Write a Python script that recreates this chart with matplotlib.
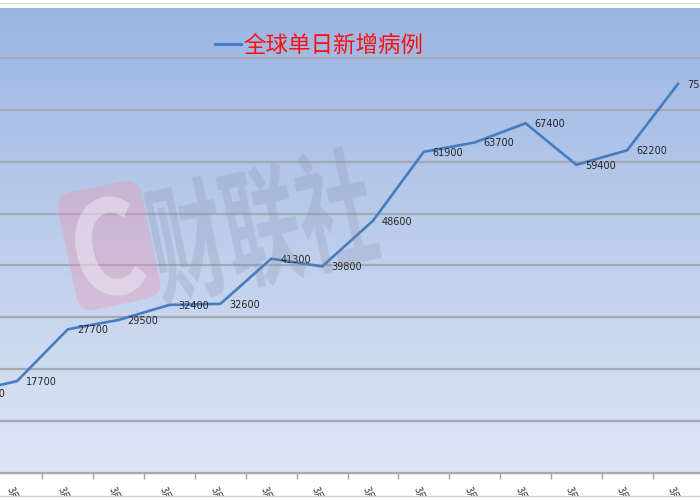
import numpy as np
import matplotlib
matplotlib.use("Agg")
import matplotlib.pyplot as plt
import matplotlib.transforms as mtransforms
from matplotlib.patches import FancyBboxPatch, PathPatch, Rectangle
from matplotlib.textpath import TextPath
from matplotlib.font_manager import FontProperties
from matplotlib.lines import Line2D

plt.rcParams['font.family'] = ['Noto Sans CJK SC', 'DejaVu Sans']

# ---------------- data ----------------
dates = ['3月17日', '3月18日', '3月19日', '3月20日', '3月21日', '3月22日', '3月23日',
         '3月24日', '3月25日', '3月26日', '3月27日', '3月28日', '3月29日', '3月30日',
         '3月31日']
cases = [15500, 17700, 27700, 29500, 32400, 32600, 41300, 39800, 48600, 61900,
         63700, 67400, 59400, 62200, 75000]
series_name = '全球单日新增病例'
y_ticks = [0, 10000, 20000, 30000, 40000, 50000, 60000, 70000, 80000, 90000]

W, H = 700, 500
line_color = '#457DC0'

fig = plt.figure(figsize=(7, 5), dpi=100)
fig.patch.set_facecolor('white')

# axes: bottom at image y=473, top at image y=6
ax = fig.add_axes([0, (H - 473) / H, 1, 467 / H])

# gradient background
top_c = np.array([155, 181, 227]) / 255
bot_c = np.array([222, 230, 244]) / 255
t = np.linspace(0, 1, 256)[:, None]
grad = (top_c[None, :] * (1 - t) + bot_c[None, :] * t)[:, None, :]
ax.imshow(grad, extent=[0, 1, 0, 1], transform=ax.transAxes, aspect='auto',
          zorder=0, interpolation='bilinear')
ax.patch.set_visible(False)

x = np.arange(len(cases))
ax.plot(x, cases, color=line_color, lw=1.9, zorder=3, solid_joinstyle='miter')

for xi, v in zip(x, cases):
    ax.annotate(f'{v}', (xi, v), xytext=(9, -1), textcoords='offset pixels',
                fontsize=7, ha='left', va='center', color='#262626',
                family='DejaVu Sans', annotation_clip=False, zorder=4)

ax.set_yticks(y_ticks)
ax.tick_params(axis='y', left=False, labelleft=False)
ax.yaxis.grid(True, color='#A4A9B6', lw=1.6, zorder=1)
ax.set_axisbelow(True)

ax.set_xticks(x + 0.5)
ax.set_xticklabels([])
ax.set_xticks(x, minor=True)
ax.set_xticklabels(dates, minor=True, rotation=-65, ha='left',
                   rotation_mode='anchor', fontsize=7, color='#333333')
ax.tick_params(axis='x', which='major', direction='out', length=4,
               color='#A0A0A0', width=1)
ax.tick_params(axis='x', which='minor', length=0, pad=9)
offset = mtransforms.ScaledTranslation(-3 / 100, 0, fig.dpi_scale_trans)
for lab in ax.get_xticklabels(minor=True):
    lab.set_transform(lab.get_transform() + offset)

# category spacing ~50.85 px, first category at pixel -33.85 (set after ticks)
sp = 50.85
x0 = -33.85
ax.set_xlim((0 - x0) / sp, (W - x0) / sp)
ax.set_ylim(0, 90000)

for s in ['left', 'right', 'top']:
    ax.spines[s].set_visible(False)
ax.spines['bottom'].set_color('#A8A8A8')
ax.spines['bottom'].set_linewidth(1)

# legend
ax.legend(handles=[Line2D([], [], color=line_color, lw=2.2)], labels=[series_name],
          loc='upper left', bbox_to_anchor=(215 / W, 1 - 34 / H),
          bbox_transform=fig.transFigure, frameon=False, fontsize=16.2,
          labelcolor='#FF1010', handlelength=1.15, handletextpad=0.12,
          borderpad=0, borderaxespad=0)

# ------------- watermark -------------
def px_tr(sx, sy, rot, tx, ty):
    return (mtransforms.Affine2D().scale(sx, sy).rotate_deg(rot)
            .translate(tx, H - ty).scale(1 / 100) + fig.dpi_scale_trans)

rect = FancyBboxPatch((0, 0), 85, 120, boxstyle='round,pad=0,rounding_size=16',
                      facecolor='#F58AA5', edgecolor='none', alpha=0.3,
                      transform=px_tr(1, 1, 12, 80, 313), zorder=5)
fig.add_artist(rect)

fp_b = FontProperties(family='Noto Sans CJK SC', weight='bold')
cpath = TextPath((0, 0), 'C', size=130, prop=fp_b)
cpatch = PathPatch(cpath, facecolor='#F4F0FA', edgecolor='none', alpha=0.45,
                   transform=px_tr(0.85, 1.0, 12, 81, 302), zorder=6)
fig.add_artist(cpatch)

wpath = TextPath((0, 0), '财联社', size=100, prop=fp_b)
wpatch = PathPatch(wpath, facecolor='#8088A0', edgecolor='none', alpha=0.22,
                   transform=px_tr(0.76, 1.3, 12, 160, 297), zorder=6)
fig.add_artist(wpatch)

# cropped screenshot borders
fig.add_artist(Rectangle((0, (H - 7.5) / H), 1, 7.5 / H, transform=fig.transFigure,
                         facecolor='white', edgecolor='none', zorder=10))
fig.add_artist(Line2D([0, 1], [(H - 3) / H] * 2, transform=fig.transFigure,
                      color='#DADADA', lw=0.8, zorder=11))
fig.add_artist(Rectangle((0, 0), 1, 4.5 / H, transform=fig.transFigure,
                         facecolor='white', edgecolor='none', zorder=10))
fig.add_artist(Line2D([0, 1], [4.5 / H] * 2, transform=fig.transFigure,
                      color='#CFCFCF', lw=1.0, zorder=11))

fig.savefig('out.png', dpi=100)
